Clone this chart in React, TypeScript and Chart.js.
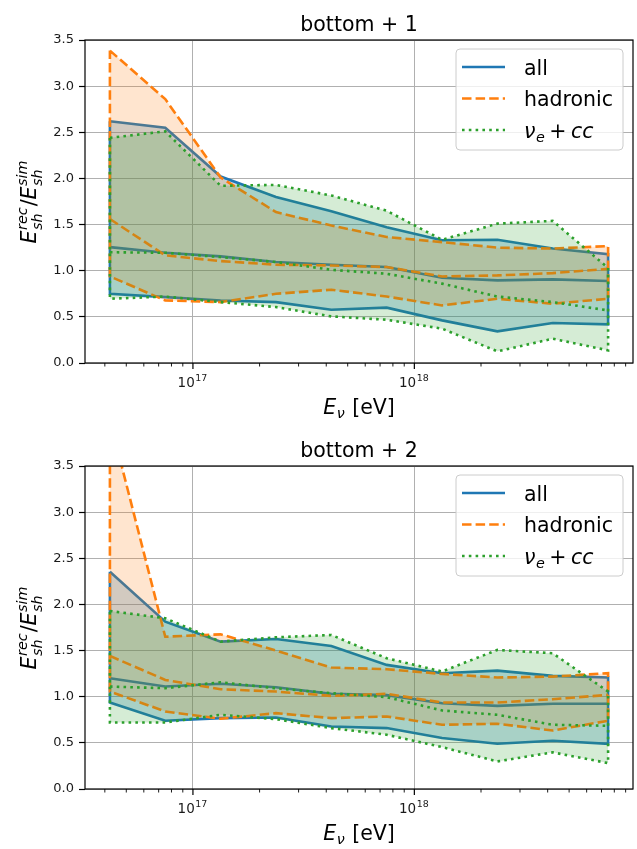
import React, { useEffect, useRef } from 'react';
import { Chart, registerables } from 'chart.js';

Chart.register(...registerables);

// Bin centres of the neutrino energy (eV)
const ENERGY_EV = [4.217e16, 7.499e16, 1.334e17, 2.371e17, 4.217e17, 7.499e17, 1.334e18, 2.371e18, 4.217e18, 7.499e18];

// ---- Panel "bottom + 1" ----
const P1_ALL_UPPER = [2.62, 2.55, 2.02, 1.80, 1.645, 1.47, 1.33, 1.335, 1.24, 1.18];
const P1_ALL_MEDIAN = [1.256, 1.195, 1.155, 1.094, 1.065, 1.04, 0.924, 0.895, 0.906, 0.888];
const P1_ALL_LOWER = [0.75, 0.714, 0.678, 0.66, 0.577, 0.6, 0.462, 0.343, 0.433, 0.419];
const P1_HAD_UPPER = [3.385, 2.86, 2.01, 1.635, 1.49, 1.365, 1.31, 1.25, 1.24, 1.267];
const P1_HAD_MEDIAN = [1.56, 1.166, 1.104, 1.065, 1.057, 1.04, 0.938, 0.949, 0.974, 1.02];
const P1_HAD_LOWER = [0.938, 0.678, 0.66, 0.75, 0.794, 0.72, 0.624, 0.696, 0.642, 0.696];
const P1_NUE_UPPER = [2.44, 2.51, 1.92, 1.93, 1.815, 1.65, 1.335, 1.51, 1.54, 1.03];
const P1_NUE_MEDIAN = [1.2, 1.195, 1.148, 1.094, 1.01, 0.967, 0.86, 0.72, 0.66, 0.57];
const P1_NUE_LOWER = [0.696, 0.72, 0.66, 0.606, 0.505, 0.469, 0.372, 0.126, 0.263, 0.137];

// ---- Panel "bottom + 2" ----
const P2_ALL_UPPER = [2.354, 1.813, 1.597, 1.626, 1.55, 1.345, 1.255, 1.283, 1.226, 1.208];
const P2_ALL_MEDIAN = [1.2, 1.11, 1.14, 1.103, 1.031, 1.017, 0.93, 0.901, 0.923, 0.923];
const P2_ALL_LOWER = [0.937, 0.739, 0.768, 0.775, 0.678, 0.66, 0.552, 0.49, 0.523, 0.49];
const P2_HAD_UPPER = [4.0, 1.65, 1.676, 1.5, 1.316, 1.298, 1.247, 1.208, 1.218, 1.255];
const P2_HAD_MEDIAN = [1.442, 1.182, 1.081, 1.056, 1.009, 1.031, 0.937, 0.937, 0.973, 1.02];
const P2_HAD_LOWER = [1.056, 0.84, 0.761, 0.822, 0.768, 0.786, 0.696, 0.707, 0.634, 0.739];
const P2_NUE_UPPER = [1.929, 1.85, 1.597, 1.644, 1.669, 1.417, 1.273, 1.507, 1.471, 1.056];
const P2_NUE_MEDIAN = [1.11, 1.092, 1.157, 1.092, 1.038, 0.995, 0.851, 0.804, 0.696, 0.685];
const P2_NUE_LOWER = [0.721, 0.721, 0.804, 0.757, 0.66, 0.588, 0.454, 0.299, 0.397, 0.281];

// ---- Axes ----
const Y_TICKS = [0, 0.5, 1.0, 1.5, 2.0, 2.5, 3.0, 3.5];
const Y_MIN = 0;
const Y_MAX = 3.5;
const X_TICK_MANTISSAS = [1, 2, 3, 4, 5, 6, 7, 8, 9];
const X_TICK_DECADES = [16, 17, 18];
const X_LABELED_DECADES = [17, 18];

const TITLES = ['bottom + 1', 'bottom + 2'];
const LEGEND_LABELS = ['all', 'hadronic', 'nue'];

const FONT = "'DejaVu Sans', 'Liberation Sans', sans-serif";
const COL = { all: '#1f77b4', hadronic: '#ff7f0e', nue: '#2ca02c' };
const FILLC = { all: 'rgba(31,119,180,0.25)', hadronic: 'rgba(255,127,14,0.2)', nue: 'rgba(44,160,44,0.2)' };
const LW = 2.6;
const DASH = { all: [] as number[], hadronic: [9.5, 4.1], nue: [2.6, 4.2] };

const PANELS = [
  {
    title: TITLES[0], height: 426,
    all: [P1_ALL_UPPER, P1_ALL_MEDIAN, P1_ALL_LOWER],
    had: [P1_HAD_UPPER, P1_HAD_MEDIAN, P1_HAD_LOWER],
    nue: [P1_NUE_UPPER, P1_NUE_MEDIAN, P1_NUE_LOWER],
  },
  {
    title: TITLES[1], height: 423,
    all: [P2_ALL_UPPER, P2_ALL_MEDIAN, P2_ALL_LOWER],
    had: [P2_HAD_UPPER, P2_HAD_MEDIAN, P2_HAD_LOWER],
    nue: [P2_NUE_UPPER, P2_NUE_MEDIAN, P2_NUE_LOWER],
  },
];

const lg = Math.log10(ENERGY_EV[0]);
const hg = Math.log10(ENERGY_EV[ENERGY_EV.length - 1]);
const X_MIN = Math.pow(10, lg - 0.05 * (hg - lg));
const X_MAX = Math.pow(10, hg + 0.05 * (hg - lg));

const X_TICKS: number[] = [];
for (const d of X_TICK_DECADES) for (const m of X_TICK_MANTISSAS) {
  const v = m * Math.pow(10, d);
  if (v >= X_MIN && v <= X_MAX) X_TICKS.push(v);
}
const isDecade = (v: number) => {
  const l = Math.log10(v);
  return Math.abs(l - Math.round(l)) < 1e-9;
};

function band(upper: number[], lower: number[]) {
  const pts = upper.map((v, i) => ({ x: ENERGY_EV[i], y: v }));
  for (let i = lower.length - 1; i >= 0; i--) pts.push({ x: ENERGY_EV[i], y: lower[i] });
  pts.push({ x: ENERGY_EV[0], y: upper[0] });
  return pts;
}
function line(vals: number[]) {
  return vals.map((v, i) => ({ x: ENERGY_EV[i], y: v }));
}

// ---- rich text (sub/superscripts) ----
type Piece = { t?: string; it?: boolean; sub?: string; sup?: string; up?: boolean; gap?: number };
function richLayout(ctx: CanvasRenderingContext2D, pieces: Piece[], size: number) {
  let w = 0;
  const items: { p: Piece; x: number }[] = [];
  for (const p of pieces) {
    if (p.gap !== undefined) {
      w += p.gap;
    } else if (p.t !== undefined) {
      ctx.font = `${p.it ? 'italic ' : ''}${size}px ${FONT}`;
      items.push({ p, x: w });
      w += ctx.measureText(p.t).width;
    } else {
      const ss = size * 0.7;
      ctx.font = `${p.up ? '' : 'italic '}${ss}px ${FONT}`;
      const a = p.sub ? ctx.measureText(p.sub).width : 0;
      const b = p.sup ? ctx.measureText(p.sup).width : 0;
      items.push({ p, x: w + 0.5 });
      w += Math.max(a, b) + 1.5;
    }
  }
  return { items, w };
}
function drawRich(ctx: CanvasRenderingContext2D, pieces: Piece[], x: number, y: number, size: number, align: 'left' | 'center') {
  const { items, w } = richLayout(ctx, pieces, size);
  const x0 = align === 'center' ? x - w / 2 : x;
  ctx.textAlign = 'left';
  ctx.textBaseline = 'alphabetic';
  for (const { p, x: px } of items) {
    if (p.t !== undefined) {
      ctx.font = `${p.it ? 'italic ' : ''}${size}px ${FONT}`;
      ctx.fillText(p.t, x0 + px, y);
    } else {
      const ss = size * 0.7;
      ctx.font = `${p.up ? '' : 'italic '}${ss}px ${FONT}`;
      const both = !!(p.sub && p.sup);
      if (p.sup) ctx.fillText(p.sup, x0 + px, y - size * (both ? 0.45 : 0.42));
      if (p.sub) ctx.fillText(p.sub, x0 + px, y + size * (both ? 0.27 : 0.2));
    }
  }
}

const LEGEND_PIECES: Piece[][] = [
  [{ t: 'all' }],
  [{ t: 'hadronic' }],
  [{ t: 'ν', it: true }, { sub: 'e' }, { gap: 3.5 }, { t: '+' }, { gap: 4.5 }, { t: 'cc', it: true }],
];

function decorPlugin(title: string) {
  return {
    id: 'decor',
    afterDraw(chart: any) {
      const { ctx, chartArea: a, scales } = chart;
      const xs = scales.x;
      ctx.save();
      // spines
      ctx.strokeStyle = '#000';
      ctx.lineWidth = 1.2;
      ctx.setLineDash([]);
      ctx.strokeRect(a.left, a.top, a.right - a.left, a.bottom - a.top);
      // x ticks (major + minor) and labels
      ctx.fillStyle = '#1a1a1a';
      for (const v of X_TICKS) {
        const px = xs.getPixelForValue(v);
        const major = isDecade(v);
        ctx.beginPath();
        ctx.lineWidth = major ? 1.2 : 0.9;
        ctx.moveTo(px, a.bottom);
        ctx.lineTo(px, a.bottom + (major ? 6 : 3.5));
        ctx.stroke();
        const dec = Math.round(Math.log10(v));
        if (major && X_LABELED_DECADES.includes(dec)) {
          drawRich(ctx, [{ t: '10' }, { sup: String(dec), up: true }], px, a.bottom + 24, 13.5, 'center');
        }
      }
      // title
      ctx.fillStyle = '#000';
      drawRich(ctx, [{ t: title }], (a.left + a.right) / 2, 30.5, 20.5, 'center');
      // x label
      drawRich(ctx, [{ t: 'E', it: true }, { sub: 'ν' }, { t: ' [eV]' }], (a.left + a.right) / 2, a.bottom + 51, 20.5, 'center');
      // y label (rotated)
      ctx.save();
      ctx.translate(36, (a.top + a.bottom) / 2);
      ctx.rotate(-Math.PI / 2);
      drawRich(ctx, [
        { t: 'E', it: true }, { sub: 'sh', sup: 'rec' }, { t: '/' },
        { t: 'E', it: true }, { sub: 'sh', sup: 'sim' },
      ], 0, 0, 20.5, 'center');
      ctx.restore();
      // legend
      const bw = 167, bh = 101;
      const bx = a.right - 10 - bw, by = a.top + 9;
      ctx.beginPath();
      if ((ctx as any).roundRect) (ctx as any).roundRect(bx, by, bw, bh, 4);
      else ctx.rect(bx, by, bw, bh);
      ctx.fillStyle = 'rgba(255,255,255,0.8)';
      ctx.fill();
      ctx.strokeStyle = '#cccccc';
      ctx.lineWidth = 1;
      ctx.stroke();
      const keys = ['all', 'hadronic', 'nue'] as const;
      const rows = [18, 49.5, 81];
      keys.forEach((k, i) => {
        const ly = by + rows[i];
        ctx.beginPath();
        ctx.strokeStyle = COL[k];
        ctx.lineWidth = LW;
        ctx.lineCap = 'butt';
        ctx.setLineDash(DASH[k]);
        ctx.moveTo(bx + 6, ly);
        ctx.lineTo(bx + 49, ly);
        ctx.stroke();
        ctx.setLineDash([]);
        ctx.fillStyle = '#000';
        drawRich(ctx, LEGEND_PIECES[i], bx + 68, ly + 7.5, 20.5, 'left');
      });
      ctx.restore();
    },
  };
}

function makeConfig(panel: typeof PANELS[number]) {
  const groups = [
    { key: 'all' as const, vals: panel.all, order: 6, label: LEGEND_LABELS[0] },
    { key: 'hadronic' as const, vals: panel.had, order: 4, label: LEGEND_LABELS[1] },
    { key: 'nue' as const, vals: panel.nue, order: 2, label: LEGEND_LABELS[2] },
  ];
  const datasets: any[] = [];
  for (const g of groups) {
    datasets.push({
      label: g.label + ' band',
      data: band(g.vals[0], g.vals[2]),
      borderColor: COL[g.key],
      backgroundColor: FILLC[g.key],
      borderWidth: LW,
      borderDash: DASH[g.key],
      fill: 'shape',
      order: g.order,
      pointRadius: 0,
    });
    datasets.push({
      label: g.label,
      data: line(g.vals[1]),
      borderColor: COL[g.key],
      borderWidth: LW,
      borderDash: DASH[g.key],
      fill: false,
      order: g.order - 1,
      pointRadius: 0,
    });
  }
  const H = panel.height;
  return {
    type: 'line',
    data: { datasets },
    options: {
      responsive: false,
      animation: false,
      devicePixelRatio: 1,
      events: [],
      layout: { padding: { top: 40, right: 4, left: 0, bottom: 0 } },
      elements: { point: { radius: 0 }, line: { tension: 0, borderCapStyle: 'butt', borderJoinStyle: 'miter' } },
      plugins: { legend: { display: false }, tooltip: { enabled: false }, title: { display: false } },
      scales: {
        x: {
          type: 'logarithmic',
          min: X_MIN,
          max: X_MAX,
          afterBuildTicks: (s: any) => { s.ticks = X_TICKS.map((v) => ({ value: v })); },
          afterFit: (s: any) => { s.height = H - 363; },
          ticks: { display: false },
          grid: {
            color: (c: any) => (c.tick && isDecade(c.tick.value) ? '#b0b0b0' : 'rgba(0,0,0,0)'),
            lineWidth: 1,
            drawTicks: false,
          },
          border: { display: false },
        },
        y: {
          type: 'linear',
          min: Y_MIN,
          max: Y_MAX,
          afterBuildTicks: (s: any) => { s.ticks = Y_TICKS.map((v) => ({ value: v })); },
          afterFit: (s: any) => { s.width = 85; },
          ticks: {
            font: { family: FONT, size: 13 },
            color: '#1a1a1a',
            padding: 5,
            callback: (v: any) => Number(v).toFixed(1),
          },
          grid: { color: '#b0b0b0', lineWidth: 1, tickColor: '#000', tickLength: 6, tickWidth: 1.2 },
          border: { display: false },
        },
      },
    },
    plugins: [decorPlugin(panel.title)],
  };
}

function Panel({ panel }: { panel: typeof PANELS[number] }) {
  const ref = useRef<HTMLCanvasElement | null>(null);
  useEffect(() => {
    if (!ref.current) return;
    const chart = new Chart(ref.current, makeConfig(panel) as any);
    return () => chart.destroy();
  }, [panel]);
  return <canvas ref={ref} width={637} height={panel.height} style={{ display: 'block', width: 637, height: panel.height }} />;
}

export default function App() {
  return (
    <div style={{ position: 'absolute', left: 0, top: 0, width: 637, height: 849, background: '#fff' }}>
      {PANELS.map((p, i) => <Panel key={i} panel={p} />)}
    </div>
  );
}
